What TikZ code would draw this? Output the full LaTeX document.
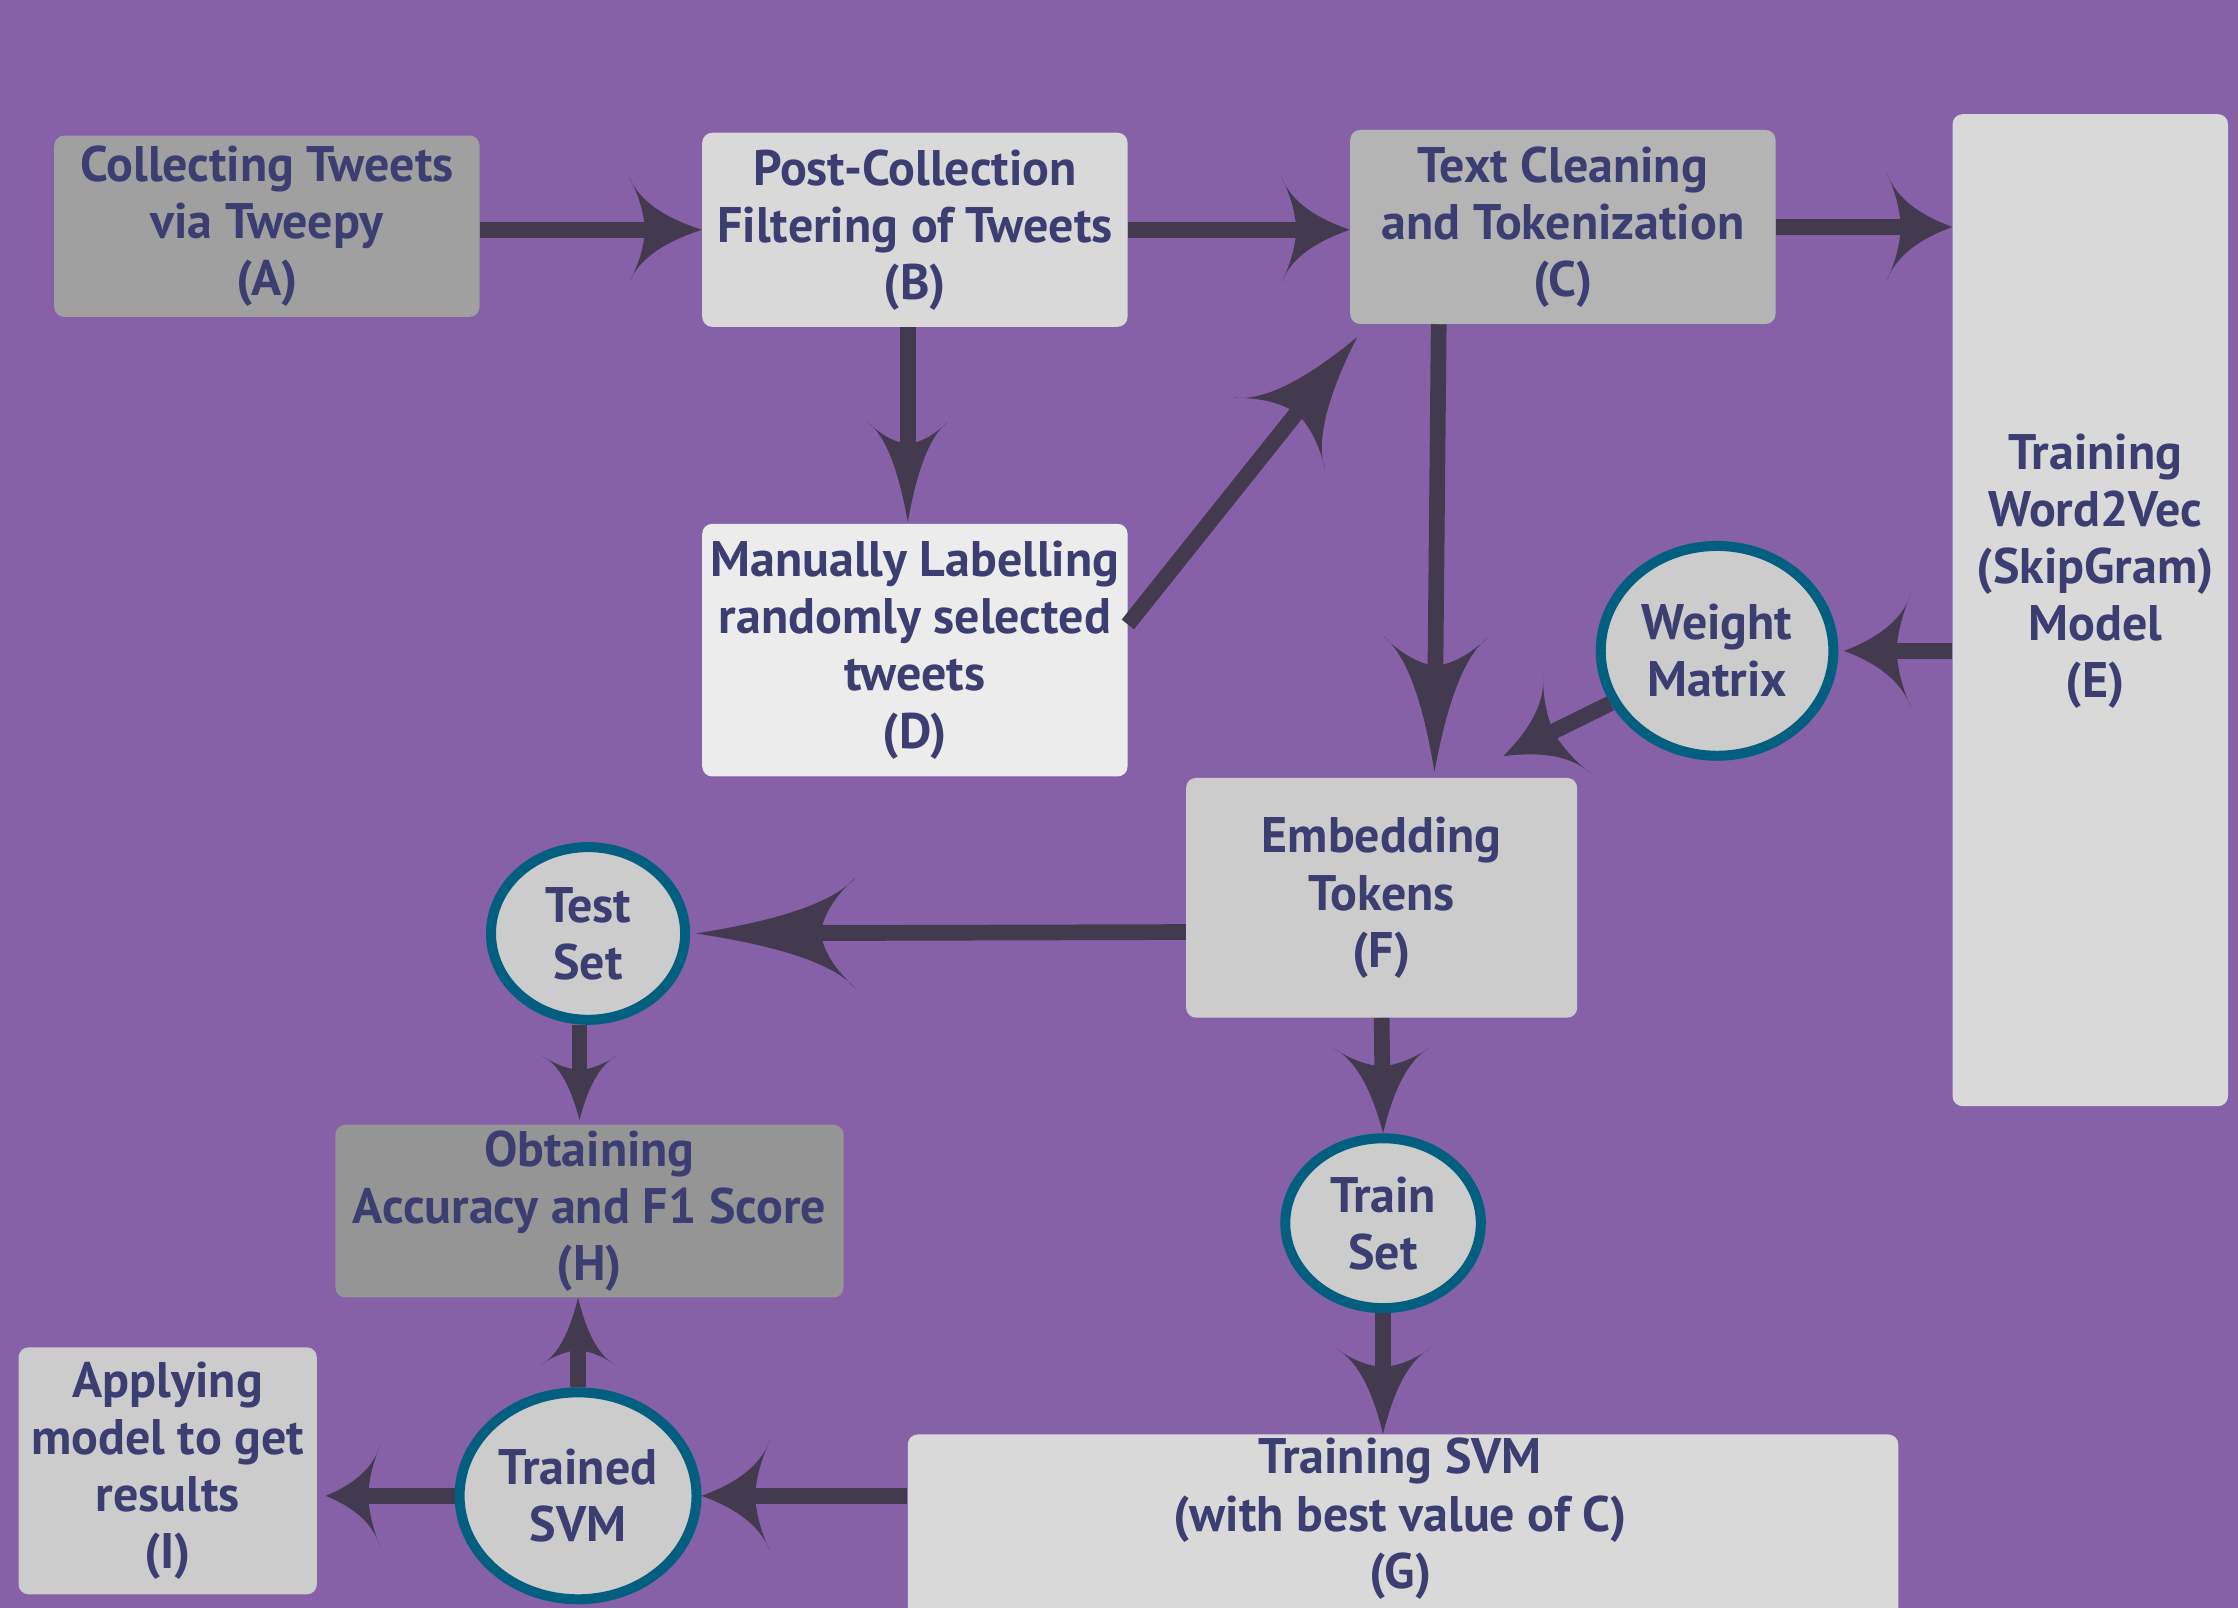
\documentclass[tikz,border=0pt]{standalone}
\usepackage{fontspec}
\setmainfont{PT Sans}
\usetikzlibrary{arrows.meta,shapes.geometric}
\definecolor{bgc}{HTML}{8661A8}
\definecolor{linec}{HTML}{433A4F}
\definecolor{txtc}{HTML}{3C3E72}
\definecolor{ringc}{HTML}{035F80}
\definecolor{cA}{HTML}{A0A0A0}
\definecolor{cB}{HTML}{D9D9D9}
\definecolor{cC}{HTML}{B4B4B4}
\definecolor{cD}{HTML}{ECECEC}
\definecolor{cF}{HTML}{CCCCCC}
\definecolor{cH}{HTML}{959595}
\pgfdeclarearrow{
  name = Curvy,
  parameters = {\the\pgfarrowlength,\the\pgfarrowwidth},
  setup code = {
    \pgfarrowssettipend{0pt}
    \pgfarrowssetlineend{-.6\pgfarrowlength}
    \pgfarrowssetbackend{-\pgfarrowlength}
    \pgfarrowssetvisualbackend{-.6\pgfarrowlength}
    \pgfarrowssavethe\pgfarrowlength
    \pgfarrowssavethe\pgfarrowwidth
  },
  drawing code = {
    \pgfpathmoveto{\pgfqpoint{0pt}{0pt}}
    \pgfpathcurveto{\pgfqpoint{-.45\pgfarrowlength}{.1\pgfarrowwidth}}{\pgfqpoint{-.85\pgfarrowlength}{.25\pgfarrowwidth}}{\pgfqpoint{-\pgfarrowlength}{.5\pgfarrowwidth}}
    \pgfpathcurveto{\pgfqpoint{-.85\pgfarrowlength}{.3\pgfarrowwidth}}{\pgfqpoint{-.8\pgfarrowlength}{.15\pgfarrowwidth}}{\pgfqpoint{-.78\pgfarrowlength}{0pt}}
    \pgfpathcurveto{\pgfqpoint{-.8\pgfarrowlength}{-.15\pgfarrowwidth}}{\pgfqpoint{-.85\pgfarrowlength}{-.3\pgfarrowwidth}}{\pgfqpoint{-\pgfarrowlength}{-.5\pgfarrowwidth}}
    \pgfpathcurveto{\pgfqpoint{-.85\pgfarrowlength}{-.25\pgfarrowwidth}}{\pgfqpoint{-.45\pgfarrowlength}{-.1\pgfarrowwidth}}{\pgfqpoint{0pt}{0pt}}
    \pgfpathclose
    \pgfusepathqfill
  },
  defaults = {length = 48pt, width = 76pt}
}
\newcommand\dfont{\fontsize{35}{40}\selectfont\bfseries}
\begin{document}
\begin{tikzpicture}[x=1pt,y=-1pt,
  box/.style={rounded corners=7pt, inner sep=2pt, align=center, font=\dfont, text=txtc},
  txt/.style={align=center, font=\dfont, text=txtc, inner sep=0pt},
  oval/.style={ellipse, draw=ringc, line width=7pt, fill=cF, inner sep=0pt, align=center, font=\dfont, text=txtc},
  arr/.style={draw=linec, line width=11pt, -{Curvy[#1]}},
  arr/.default={}
]
\useasboundingbox (0,0) rectangle (1568,1126.6);
\fill[bgc] (0,0) rectangle (1568,1126.6);

% boxes
\node[box, fill=cA, minimum width=298pt, minimum height=127pt] (A) at (187,158.5) {Collecting Tweets\\via Tweepy\\(A)};
\node[box, fill=cB, minimum width=298pt, minimum height=136pt] (B) at (641,161) {Post-Collection\\Filtering of Tweets\\(B)};
\node[box, fill=cC, minimum width=298pt, minimum height=136pt] (C) at (1095,159) {Text Cleaning\\and Tokenization\\(C)};
\node[box, fill=cD, minimum width=298pt, minimum height=177pt] (D) at (641,455.5) {Manually Labelling\\randomly selected\\tweets\\(D)};
\node[box, fill=cB, minimum width=193pt, minimum height=695pt] (E) at (1464.5,427.5) {};
\node[txt] (Et) at (1468,400) {Training\\Word2Vec\\(SkipGram)\\Model\\(E)};
\node[box, fill=cF, minimum width=274pt, minimum height=168pt] (F) at (968,629) {Embedding\\Tokens\\(F)};
\node[box, fill=cB, minimum width=694pt, minimum height=150pt] (G) at (983,1080) {};
\node[txt] (Gt) at (981,1064) {Training SVM\\(with best value of C)\\(G)};
\node[box, fill=cH, minimum width=356pt, minimum height=121pt] (H) at (413,848.5) {Obtaining\\Accuracy and F1 Score\\(H)};
\node[box, fill=cF, minimum width=209pt, minimum height=173pt] (I) at (117.5,1030.5) {Applying\\model to get\\results\\(I)};

% ovals
\node[oval, minimum width=163pt, minimum height=147pt] (W) at (1203,456) {Weight\\Matrix};
\node[oval, minimum width=136pt, minimum height=121pt] (T) at (412,654) {Test\\Set};
\node[oval, minimum width=137pt, minimum height=119pt] (S) at (969,857) {Train\\Set};
\node[oval, minimum width=166pt, minimum height=145pt] (V) at (405,1048) {Trained\\SVM};

% connectors
\draw[arr={length=51pt,width=74pt}] (A.east |- B.west) -- (B.west);
\draw[arr={length=48pt,width=74pt}] (B.east) -- (B.east -| C.west);
\draw[arr={length=46pt,width=76pt}] (C.east) -- (C.east -| E.west);
\draw[arr={length=70pt,width=56pt}] ([xshift=-5pt]B.south) -- ([xshift=-5pt,yshift=1pt]D.north);
\draw[arr={length=87pt,width=82pt}] ([yshift=18pt]D.east) -- ([shift={(5,9)}]C.south west);
\draw[arr={length=95pt,width=74pt}] ([xshift=-87pt]C.south) -- ([xshift=37pt,yshift=4pt]F.north);
\draw[arr={length=47pt,width=80pt}, shorten >=4pt] (E.west |- W.east) -- (W.east);
\draw[arr={length=50pt,width=77pt}] (W) -- ([shift={(-52,-15)}]F.north east);
\draw[arr={length=112pt,width=78pt}, shorten >=4pt] ([yshift=-24pt]F.west) -- (T.east);
\draw[arr={length=45pt,width=52pt}] ([xshift=-6pt]T.south) -- ([xshift=-7pt,yshift=3pt]H.north);
\draw[arr={length=60pt,width=68pt}] (F.south) -- (S.north);
\draw[arr={length=60pt,width=66pt}] (S.south) -- (S.south |- G.north);
\draw[arr={length=48pt,width=78pt}] (V.east -| G.west) -- (V.east);
\draw[arr={length=47pt,width=52pt}] (V.north) -- (V.north |- H.south);
\draw[arr={length=38pt,width=70pt}, shorten >=6pt] (V.west) -- (V.west -| I.east);
\end{tikzpicture}
\end{document}
